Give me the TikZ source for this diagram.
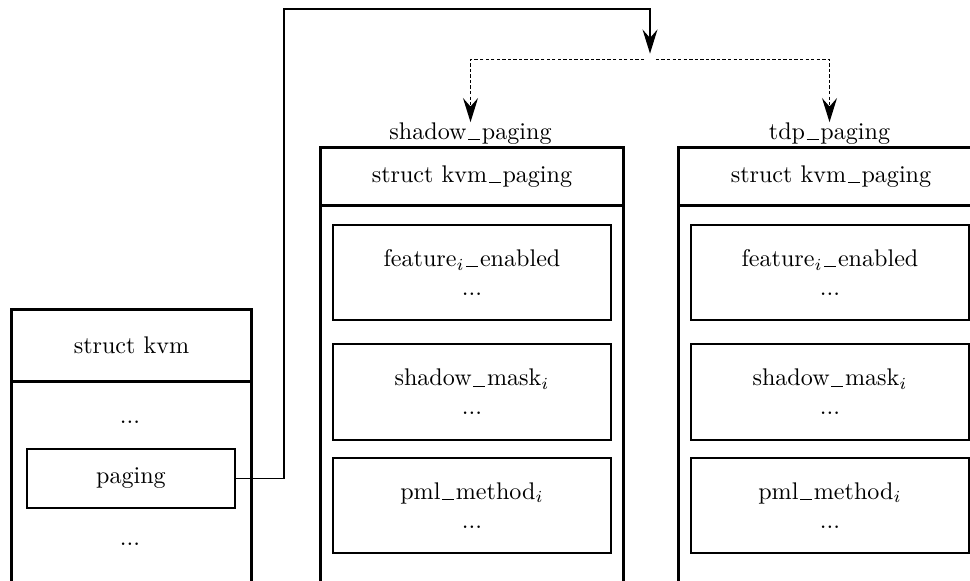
\documentclass[tikz,border=0pt]{standalone}
\usetikzlibrary{arrows.meta}
% one drawing unit in points
\def\pxs{0.415pt}
% underscore drawn as a rule with a little room on both sides
\newcommand\usc{\kern0.07em\rule[-0.3pt]{0.5em}{0.45pt}\kern0.07em}
\begin{document}
\begin{tikzpicture}[
  x=0.415pt, y=-0.415pt,
  every node/.style={inner sep=0pt},
  outerbox/.style={draw, line width=1.2pt, anchor=north west, align=center},
  fieldbox/.style={draw, line width=0.8pt, anchor=north west, align=center},
  link/.style={line width=0.6pt},
  dotlink/.style={line width=0.7pt, dash pattern=on 1.4pt off 0.9pt},
  tip/.style={-{Stealth[length=10pt, width=6.2pt, inset=3.5pt]}}
]
\useasboundingbox (0,0) rectangle (970,581);
\clip (0,0) rectangle (970,581);

% struct kvm
\node[outerbox, minimum width=240*\pxs, minimum height=72*\pxs] (kvmhead) at (10,308) {struct kvm};
\node[outerbox, minimum width=240*\pxs, minimum height=300*\pxs] (kvmbody) at (10,380) {};
\node (kvmdotsA) at (130,422) {...};
\node[fieldbox, minimum width=208*\pxs, minimum height=59*\pxs] (paging) at (26,448) {paging};
\node (kvmdotsB) at (130,544) {...};

% shadow_paging instance
\node (lblS) at (470.5,133.5) {shadow\usc paging};
\node[outerbox, minimum width=303*\pxs, minimum height=58*\pxs] (shead) at (319,146) {struct kvm\usc paging};
\node[outerbox, minimum width=303*\pxs, minimum height=450*\pxs] (sbody) at (319,204) {};
\node[fieldbox, minimum width=278*\pxs, minimum height=95*\pxs] (sA) at (332,224) {feature$_i$\usc enabled\\...};
\node[fieldbox, minimum width=278*\pxs, minimum height=96*\pxs] (sB) at (332,343) {shadow\usc mask$_i$\\...};
\node[fieldbox, minimum width=278*\pxs, minimum height=95*\pxs] (sC) at (332,457) {pml\usc method$_i$\\...};

% tdp_paging instance
\node (lblT) at (829.5,133.5) {tdp\usc paging};
\node[outerbox, minimum width=305*\pxs, minimum height=58*\pxs] (thead) at (677,146) {struct kvm\usc paging};
\node[outerbox, minimum width=305*\pxs, minimum height=450*\pxs] (tbody) at (677,204) {};
\node[fieldbox, minimum width=278*\pxs, minimum height=95*\pxs] (tA) at (690,224) {feature$_i$\usc enabled\\...};
\node[fieldbox, minimum width=278*\pxs, minimum height=96*\pxs] (tB) at (690,343) {shadow\usc mask$_i$\\...};
\node[fieldbox, minimum width=278*\pxs, minimum height=95*\pxs] (tC) at (690,457) {pml\usc method$_i$\\...};

% pointer from paging to the choice point
\node[minimum size=4.5pt] (split) at (650,59.5) {};
\coordinate (rise) at (284,9);
\draw[link, tip] (paging.east) -| (rise) -| (split.north);

% the two possible targets
\draw[dotlink, tip] (split.west) -| (lblS.north);
\draw[dotlink, tip] (split.east) -| (lblT.north);
\end{tikzpicture}
\end{document}
